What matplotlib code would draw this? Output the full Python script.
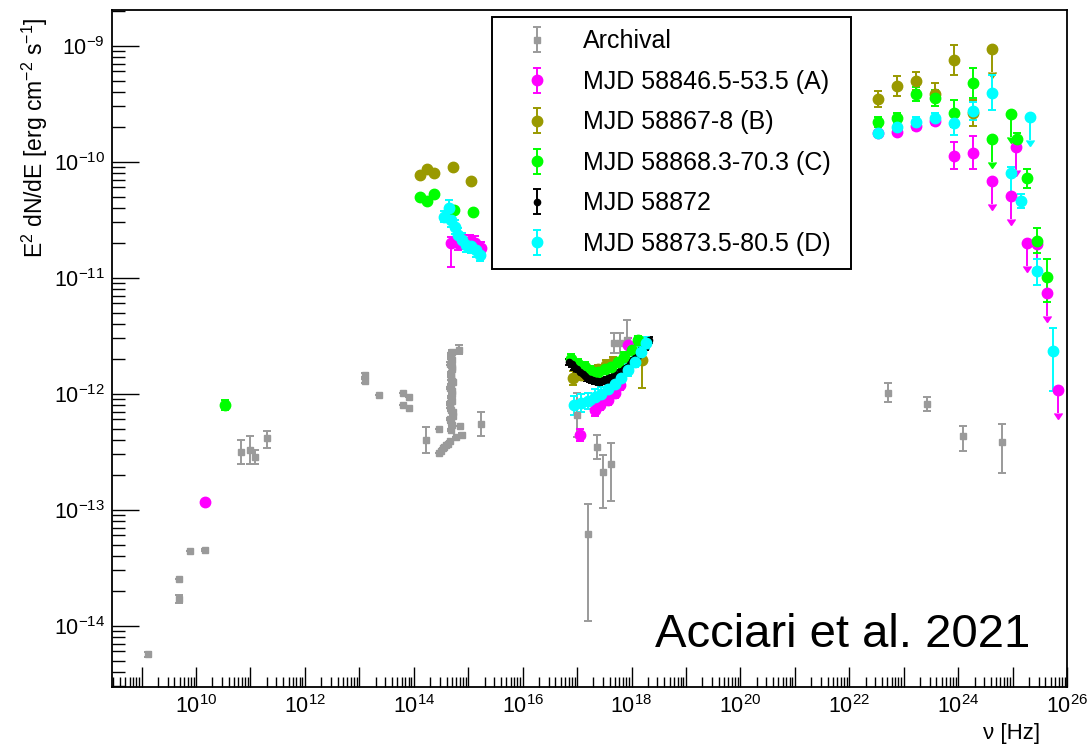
import numpy as np
import matplotlib
matplotlib.use("Agg")
import matplotlib.pyplot as plt
from matplotlib.ticker import FixedLocator, LogLocator, FuncFormatter, NullFormatter

plt.rcParams['font.family'] = ['Liberation Sans', 'DejaVu Sans']
plt.rcParams['mathtext.fontset'] = 'custom'
plt.rcParams['mathtext.rm'] = 'Liberation Sans'
plt.rcParams['mathtext.it'] = 'Liberation Sans:italic'
plt.rcParams['mathtext.bf'] = 'Liberation Sans:bold'

# all values: log10(nu [Hz]), log10(E^2 dN/dE), errors in dex (low, high)

# archival data (grey)
arch_lognu = [9.12, 9.68, 9.68, 9.895, 10.16, 10.82, 11.00, 11.09, 11.31,
              13.11, 13.11, 13.37, 13.81, 13.92, 13.81, 13.92,
              14.22, 14.46, 14.46, 14.50, 14.53, 14.56, 14.60, 14.63, 14.66, 14.78, 14.84, 14.88,
              14.68, 14.70, 14.67, 14.71, 14.69, 14.68, 14.72, 14.67, 14.70, 14.68,
              14.71, 14.66, 14.69, 14.72, 14.67, 14.70, 14.69, 14.68, 14.70, 14.69, 14.71,
              14.68, 14.70, 14.66, 14.72, 14.69, 14.83, 14.71, 15.24,
              17.00, 17.37, 17.47, 17.63, 17.20, 17.67, 17.78, 17.92,
              22.71, 23.42, 24.09, 24.80]
arch_logf = [-14.247, -13.767, -13.595, -13.353, -13.345, -12.50, -12.486, -12.546, -12.384,
             -11.84, -11.89, -12.01, -11.99, -12.03, -12.10, -12.12,
             -12.40, -12.30, -12.51, -12.49, -12.47, -12.46, -12.44, -12.43, -12.41, -12.37, -12.28, -12.356,
             -11.66, -11.71, -11.74, -11.79, -11.82, -11.87, -11.90, -11.95, -11.98, -12.03,
             -12.06, -12.11, -12.14, -12.19, -12.22, -12.27, -12.31, -11.69, -11.77, -11.85, -11.89,
             -11.93, -12.00, -12.08, -12.16, -12.24, -11.62, -11.64, -12.26,
             -12.18, -12.46, -12.672, -12.606, -13.21, -11.56, -11.56, -11.54,
             -11.99, -12.09, -12.365, -12.414]
arch_elo = [0.02, 0.035, 0.0, 0.0, 0.01, 0.105, 0.12, 0.06, 0.085,
            0.02, 0.02, 0.0, 0.0, 0.0, 0.0, 0.0,
            0.115, 0.0, 0.0, 0.0, 0.0, 0.0, 0.0, 0.0, 0.0, 0.0, 0.0, 0.02,
            0.01, 0.01, 0.01, 0.01, 0.01, 0.01, 0.01, 0.01, 0.01, 0.01,
            0.01, 0.01, 0.01, 0.01, 0.01, 0.01, 0.01, 0.01, 0.01, 0.01, 0.01,
            0.01, 0.01, 0.01, 0.01, 0.01, 0.04, 0.02, 0.105,
            0.19, 0.107, 0.31, 0.32, 0.75, 0.085, 0.085, 0.17,
            0.08, 0.063, 0.125, 0.27]
arch_ehi = [0.02, 0.035, 0.0, 0.0, 0.01, 0.105, 0.12, 0.06, 0.065,
            0.02, 0.02, 0.0, 0.0, 0.0, 0.0, 0.0,
            0.115, 0.0, 0.0, 0.0, 0.0, 0.0, 0.0, 0.0, 0.0, 0.0, 0.0, 0.02,
            0.01, 0.01, 0.01, 0.01, 0.01, 0.01, 0.01, 0.01, 0.01, 0.01,
            0.01, 0.01, 0.01, 0.01, 0.01, 0.01, 0.01, 0.01, 0.01, 0.01, 0.01,
            0.01, 0.01, 0.01, 0.01, 0.01, 0.04, 0.02, 0.105,
            0.19, 0.107, 0.14, 0.18, 0.26, 0.085, 0.085, 0.175,
            0.08, 0.063, 0.085, 0.15]

# period A (magenta)
a_lognu = [10.16,
           14.687, 14.809, 14.932, 15.024, 15.116, 15.239,
           17.05, 17.32, 17.43, 17.56, 17.69, 17.78, 17.93,
           22.53, 22.88, 23.23, 23.58, 23.93, 24.28]
a_logf = [-12.936,
          -10.70, -10.70, -10.695, -10.68, -10.70, -10.74,
          -12.356, -12.14, -12.098, -12.054, -11.994, -11.925, -11.58,
          -9.755, -9.74, -9.693, -9.65, -9.948, -9.922]
a_elo = [0.01, 0.205, 0.06, 0.06, 0.05, 0.06, 0.05,
         0.05, 0.05, 0.04, 0.04, 0.04, 0.04, 0.06,
         0.03, 0.03, 0.03, 0.03, 0.115, 0.14]
a_ehi = [0.01, 0.05, 0.06, 0.06, 0.05, 0.06, 0.05,
         0.05, 0.05, 0.04, 0.04, 0.04, 0.04, 0.06,
         0.03, 0.03, 0.03, 0.03, 0.115, 0.14]
a_ul_lognu = [24.63, 24.97, 25.07, 25.26, 25.45, 25.64, 25.84]
a_ul_logf = [-10.166, -10.296, -9.87, -10.70, -10.71, -11.134, -11.968]

# period B (olive)
b_lognu = [14.105, 14.246, 14.368, 14.717, 15.055,
           16.92, 17.08, 17.23, 17.38, 17.54, 17.66, 18.19,
           22.53, 22.88, 23.23, 23.58, 23.93, 24.28]
b_logf = [-10.115, -10.063, -10.10, -10.048, -10.164,
          -11.867, -11.839, -11.81, -11.79, -11.753, -11.724, -11.71,
          -9.46, -9.347, -9.304, -9.419, -9.126, -9.58]
b_elo = [0.0, 0.0, 0.0, 0.0, 0.0,
         0.06, 0.04, 0.04, 0.04, 0.04, 0.04, 0.243,
         0.07, 0.083, 0.08, 0.1, 0.13, 0.11]
b_ehi = [0.0, 0.0, 0.0, 0.0, 0.0,
         0.06, 0.04, 0.04, 0.04, 0.04, 0.04, 0.072,
         0.07, 0.083, 0.08, 0.1, 0.13, 0.11]
b_ul_lognu = [24.63]
b_ul_logf = [-9.026]

# period C (green)
c_lognu = [10.54,
           14.105, 14.246, 14.368, 14.735, 15.097,
           16.89, 17.01, 17.14, 17.26, 17.38, 17.51, 17.63, 17.75, 17.87, 18.00, 18.12,
           22.53, 22.88, 23.23, 23.58, 23.93, 24.28,
           25.08, 25.27, 25.45, 25.64]
c_logf = [-12.097,
          -10.30, -10.34, -10.28, -10.416, -10.43,
          -11.70, -11.74, -11.77, -11.80, -11.81, -11.79, -11.77, -11.73, -11.68, -11.62, -11.54,
          -9.655, -9.626, -9.419, -9.453, -9.583, -9.319,
          -9.80, -10.143, -10.68, -10.99]
c_elo = [0.04,
         0.0, 0.0, 0.0, 0.0, 0.0,
         0.04, 0.04, 0.04, 0.04, 0.04, 0.04, 0.04, 0.04, 0.04, 0.04, 0.04,
         0.043, 0.05, 0.06, 0.07, 0.118, 0.13,
         0.05, 0.08, 0.11, 0.22]
c_ehi = [0.04,
         0.0, 0.0, 0.0, 0.0, 0.0,
         0.04, 0.04, 0.04, 0.04, 0.04, 0.04, 0.04, 0.04, 0.04, 0.04, 0.04,
         0.043, 0.05, 0.06, 0.07, 0.118, 0.13,
         0.05, 0.08, 0.11, 0.15]
c_ul_lognu = [24.63, 24.97]
c_ul_logf = [-9.80, -9.59]

# MJD 58872 (black, X-rays)
k_lognu = [16.86, 16.90, 16.95, 17.00, 17.05, 17.10, 17.14, 17.19, 17.23, 17.28, 17.32, 17.37,
           17.41, 17.46, 17.51, 17.55, 17.60, 17.65, 17.69, 17.74, 17.78, 17.83, 17.87, 17.92,
           17.97, 18.01, 18.06, 18.11, 18.15, 18.20, 18.24, 18.29, 18.33]
k_logf = [-11.724, -11.745, -11.767, -11.79, -11.81, -11.83, -11.847, -11.862, -11.876, -11.884,
          -11.89, -11.894, -11.896, -11.894, -11.89, -11.884, -11.876, -11.866, -11.853, -11.84,
          -11.824, -11.808, -11.79, -11.768, -11.744, -11.72, -11.695, -11.672, -11.647, -11.622,
          -11.595, -11.566, -11.537]
k_err = [0.025] * len(k_lognu)

# period D (cyan)
d_lognu = [14.564, 14.656, 14.687, 14.748, 14.809, 14.882, 14.963, 15.055, 15.147, 15.208,
           16.95, 17.08, 17.20, 17.32, 17.44, 17.57, 17.69, 17.81, 17.93, 18.06, 18.18, 18.27,
           22.53, 22.88, 23.23, 23.58, 23.93, 24.28, 24.63,
           24.97, 25.16, 25.45, 25.74]
d_logf = [-10.474, -10.40, -10.50, -10.56, -10.63, -10.675, -10.72, -10.73, -10.76, -10.80,
          -12.10, -12.08, -12.06, -12.03, -12.00, -11.96, -11.92, -11.867, -11.796, -11.724, -11.638, -11.565,
          -9.755, -9.698, -9.655, -9.626, -9.669, -9.563, -9.405,
          -10.095, -10.339, -10.94, -11.63]
d_elo = [0.05, 0.07, 0.06, 0.06, 0.06, 0.06, 0.06, 0.06, 0.06, 0.06,
         0.08, 0.08, 0.07, 0.07, 0.06, 0.06, 0.05, 0.05, 0.05, 0.05, 0.05, 0.05,
         0.03, 0.043, 0.043, 0.043, 0.1, 0.08, 0.15,
         0.22, 0.06, 0.12, 0.35]
d_ehi = [0.05, 0.07, 0.06, 0.06, 0.06, 0.06, 0.06, 0.06, 0.06, 0.06,
         0.08, 0.08, 0.07, 0.07, 0.06, 0.06, 0.05, 0.05, 0.05, 0.05, 0.05, 0.05,
         0.03, 0.043, 0.043, 0.043, 0.1, 0.08, 0.15,
         0.05, 0.06, 0.1, 0.2]
d_ul_lognu = [25.32]
d_ul_logf = [-9.617]

labels = ["Archival", "MJD 58846.5-53.5 (A)", "MJD 58867-8 (B)",
          "MJD 58868.3-70.3 (C)", "MJD 58872", "MJD 58873.5-80.5 (D)"]
colors = ["#9a9a9a", "#ff00ff", "#999900", "#00ff00", "#000000", "#00ffff"]

UL_DEX = 0.2

fig = plt.figure(figsize=(10.88, 7.45), dpi=100)
ax = fig.add_axes([112 / 1088, 1 - 686.7 / 745, (1067 - 112) / 1088, (686.7 - 10) / 745])


def draw(lognu, logf, elo, ehi, color, label, ms, marker='o'):
    x = 10 ** np.array(lognu)
    y = 10 ** np.array(logf)
    lo = y - y * 10 ** (-np.array(elo))
    hi = y * 10 ** np.array(ehi) - y
    return ax.errorbar(x, y, yerr=[lo, hi], fmt=marker, color=color, ms=ms,
                       elinewidth=1.4, capsize=3, capthick=1.4, label=label)


def draw_ul(lognu, logf, color):
    x = 10 ** np.array(lognu)
    y = 10 ** np.array(logf)
    lo = y - y * 10 ** (-UL_DEX)
    ax.errorbar(x, y, yerr=[lo, np.zeros_like(y)], uplims=True, fmt='o', color=color,
                ms=7.5, elinewidth=1.4, capsize=3, label='_nolegend_')


handles = []
handles.append(draw(arch_lognu, arch_logf, arch_elo, arch_ehi, colors[0], labels[0], 4, 's'))
handles.append(draw(a_lognu, a_logf, a_elo, a_ehi, colors[1], labels[1], 7.5))
draw_ul(a_ul_lognu, a_ul_logf, colors[1])
handles.append(draw(b_lognu, b_logf, b_elo, b_ehi, colors[2], labels[2], 7.5))
draw_ul(b_ul_lognu, b_ul_logf, colors[2])
handles.append(draw(c_lognu, c_logf, c_elo, c_ehi, colors[3], labels[3], 7.5))
draw_ul(c_ul_lognu, c_ul_logf, colors[3])
handles.append(draw(k_lognu, k_logf, k_err, k_err, colors[4], labels[4], 4.5))
handles.append(draw(d_lognu, d_logf, d_elo, d_ehi, colors[5], labels[5], 7.5))
draw_ul(d_ul_lognu, d_ul_logf, colors[5])

ax.set_xscale('log')
ax.set_yscale('log')
ax.set_xlim(10 ** 8.456, 1e26)
ax.set_ylim(10 ** -14.526, 10 ** -8.692)

ax.xaxis.set_major_locator(FixedLocator([10.0 ** e for e in range(9, 27)]))
ax.xaxis.set_minor_locator(LogLocator(base=10, subs=np.arange(2, 10), numticks=30))
ax.xaxis.set_major_formatter(FuncFormatter(
    lambda v, p: r'$10^{%d}$' % round(np.log10(v)) if round(np.log10(v)) % 2 == 0 else ''))
ax.xaxis.set_minor_formatter(NullFormatter())
ax.yaxis.set_major_locator(FixedLocator([10.0 ** e for e in range(-14, -8)]))
ax.yaxis.set_minor_locator(LogLocator(base=10, subs=np.arange(2, 10), numticks=20))
ax.yaxis.set_major_formatter(FuncFormatter(lambda v, p: r'$10^{%d}$' % round(np.log10(v))))
ax.yaxis.set_minor_formatter(NullFormatter())

ax.tick_params(axis='both', which='both', direction='in', top=False, right=False,
               labelsize=15.5, width=1.0, color='black')
ax.tick_params(axis='x', which='major', length=14.5, pad=6)
ax.tick_params(axis='x', which='minor', length=7.2)
ax.tick_params(axis='y', which='major', length=19.5, pad=5)
ax.tick_params(axis='y', which='minor', length=9.5)
for s in ax.spines.values():
    s.set_linewidth(1.3)

fig.text(35 / 1088, 1 - 18 / 745, r'E$^{2}$ dN/dE [erg cm$^{-2}$ s$^{-1}$]', rotation=90,
         ha='center', va='top', fontsize=16.5)
fig.text(1040 / 1088, 1 - 733 / 745, 'ν [Hz]', ha='right', va='center', fontsize=16)
fig.text(655 / 1088, 1 - 635 / 745, 'Acciari et al. 2021', ha='left', va='center', fontsize=34)

leg = ax.legend(handles=handles, labels=labels, loc='upper left',
                bbox_to_anchor=(492 / 1088, 1 - 264 / 745, 359 / 1088, 247 / 745),
                bbox_transform=fig.transFigure, mode='expand',
                borderaxespad=0, fontsize=18, frameon=True, fancybox=False,
                edgecolor='black', framealpha=1, labelspacing=0.66, borderpad=0.5,
                handlelength=2.6, handletextpad=0.55)
leg.get_frame().set_linewidth(1.4)

fig.savefig('out.png', dpi=100)
